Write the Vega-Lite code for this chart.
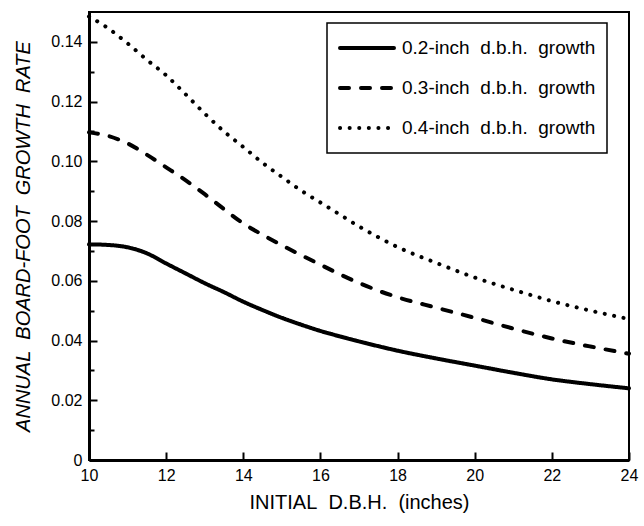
{
  "$schema": "https://vega.github.io/schema/vega-lite/v6.json",
  "width": 540,
  "height": 448,
  "autosize": {"type": "none"},
  "padding": {"left": 89, "top": 12, "right": 15, "bottom": 66},
  "background": "white",
  "config": {
    "view": {"stroke": "black", "strokeWidth": 2},
    "font": "Liberation Sans",
    "axis": {
      "labelColor": "black", "titleColor": "black",
      "labelFont": "Liberation Sans", "titleFont": "Liberation Sans",
      "labelFontSize": 16, "titleFontWeight": "normal",
      "tickColor": "black", "domainColor": "black", "grid": false
    }
  },
  "data": {"values": [
    {"dbh": 10, "rate": 0.0722, "series": "0.2-inch\u00a0 d.b.h.\u00a0 growth"},
    {"dbh": 10.5, "rate": 0.0720, "series": "0.2-inch\u00a0 d.b.h.\u00a0 growth"},
    {"dbh": 11, "rate": 0.0712, "series": "0.2-inch\u00a0 d.b.h.\u00a0 growth"},
    {"dbh": 11.5, "rate": 0.0692, "series": "0.2-inch\u00a0 d.b.h.\u00a0 growth"},
    {"dbh": 12, "rate": 0.0658, "series": "0.2-inch\u00a0 d.b.h.\u00a0 growth"},
    {"dbh": 12.5, "rate": 0.0625, "series": "0.2-inch\u00a0 d.b.h.\u00a0 growth"},
    {"dbh": 13, "rate": 0.0592, "series": "0.2-inch\u00a0 d.b.h.\u00a0 growth"},
    {"dbh": 13.5, "rate": 0.0562, "series": "0.2-inch\u00a0 d.b.h.\u00a0 growth"},
    {"dbh": 14, "rate": 0.0530, "series": "0.2-inch\u00a0 d.b.h.\u00a0 growth"},
    {"dbh": 14.5, "rate": 0.0502, "series": "0.2-inch\u00a0 d.b.h.\u00a0 growth"},
    {"dbh": 15, "rate": 0.0476, "series": "0.2-inch\u00a0 d.b.h.\u00a0 growth"},
    {"dbh": 15.5, "rate": 0.0453, "series": "0.2-inch\u00a0 d.b.h.\u00a0 growth"},
    {"dbh": 16, "rate": 0.0432, "series": "0.2-inch\u00a0 d.b.h.\u00a0 growth"},
    {"dbh": 16.5, "rate": 0.0414, "series": "0.2-inch\u00a0 d.b.h.\u00a0 growth"},
    {"dbh": 17, "rate": 0.0397, "series": "0.2-inch\u00a0 d.b.h.\u00a0 growth"},
    {"dbh": 17.5, "rate": 0.0381, "series": "0.2-inch\u00a0 d.b.h.\u00a0 growth"},
    {"dbh": 18, "rate": 0.0366, "series": "0.2-inch\u00a0 d.b.h.\u00a0 growth"},
    {"dbh": 19, "rate": 0.0340, "series": "0.2-inch\u00a0 d.b.h.\u00a0 growth"},
    {"dbh": 20, "rate": 0.0316, "series": "0.2-inch\u00a0 d.b.h.\u00a0 growth"},
    {"dbh": 21, "rate": 0.0292, "series": "0.2-inch\u00a0 d.b.h.\u00a0 growth"},
    {"dbh": 22, "rate": 0.0270, "series": "0.2-inch\u00a0 d.b.h.\u00a0 growth"},
    {"dbh": 23, "rate": 0.0254, "series": "0.2-inch\u00a0 d.b.h.\u00a0 growth"},
    {"dbh": 24, "rate": 0.0240, "series": "0.2-inch\u00a0 d.b.h.\u00a0 growth"},
    {"dbh": 10, "rate": 0.1097, "series": "0.3-inch\u00a0 d.b.h.\u00a0 growth"},
    {"dbh": 10.5, "rate": 0.1085, "series": "0.3-inch\u00a0 d.b.h.\u00a0 growth"},
    {"dbh": 11, "rate": 0.1060, "series": "0.3-inch\u00a0 d.b.h.\u00a0 growth"},
    {"dbh": 11.5, "rate": 0.1022, "series": "0.3-inch\u00a0 d.b.h.\u00a0 growth"},
    {"dbh": 12, "rate": 0.0980, "series": "0.3-inch\u00a0 d.b.h.\u00a0 growth"},
    {"dbh": 12.5, "rate": 0.0937, "series": "0.3-inch\u00a0 d.b.h.\u00a0 growth"},
    {"dbh": 13, "rate": 0.0890, "series": "0.3-inch\u00a0 d.b.h.\u00a0 growth"},
    {"dbh": 13.5, "rate": 0.0840, "series": "0.3-inch\u00a0 d.b.h.\u00a0 growth"},
    {"dbh": 14, "rate": 0.0792, "series": "0.3-inch\u00a0 d.b.h.\u00a0 growth"},
    {"dbh": 14.5, "rate": 0.0754, "series": "0.3-inch\u00a0 d.b.h.\u00a0 growth"},
    {"dbh": 15, "rate": 0.0719, "series": "0.3-inch\u00a0 d.b.h.\u00a0 growth"},
    {"dbh": 15.5, "rate": 0.0686, "series": "0.3-inch\u00a0 d.b.h.\u00a0 growth"},
    {"dbh": 16, "rate": 0.0654, "series": "0.3-inch\u00a0 d.b.h.\u00a0 growth"},
    {"dbh": 16.5, "rate": 0.0622, "series": "0.3-inch\u00a0 d.b.h.\u00a0 growth"},
    {"dbh": 17, "rate": 0.0593, "series": "0.3-inch\u00a0 d.b.h.\u00a0 growth"},
    {"dbh": 17.5, "rate": 0.0567, "series": "0.3-inch\u00a0 d.b.h.\u00a0 growth"},
    {"dbh": 18, "rate": 0.0545, "series": "0.3-inch\u00a0 d.b.h.\u00a0 growth"},
    {"dbh": 19, "rate": 0.0510, "series": "0.3-inch\u00a0 d.b.h.\u00a0 growth"},
    {"dbh": 20, "rate": 0.0476, "series": "0.3-inch\u00a0 d.b.h.\u00a0 growth"},
    {"dbh": 21, "rate": 0.0440, "series": "0.3-inch\u00a0 d.b.h.\u00a0 growth"},
    {"dbh": 22, "rate": 0.0407, "series": "0.3-inch\u00a0 d.b.h.\u00a0 growth"},
    {"dbh": 23, "rate": 0.0380, "series": "0.3-inch\u00a0 d.b.h.\u00a0 growth"},
    {"dbh": 24, "rate": 0.0356, "series": "0.3-inch\u00a0 d.b.h.\u00a0 growth"},
    {"dbh": 10, "rate": 0.1485, "series": "0.4-inch\u00a0 d.b.h.\u00a0 growth"},
    {"dbh": 10.5, "rate": 0.1445, "series": "0.4-inch\u00a0 d.b.h.\u00a0 growth"},
    {"dbh": 11, "rate": 0.1395, "series": "0.4-inch\u00a0 d.b.h.\u00a0 growth"},
    {"dbh": 11.5, "rate": 0.1340, "series": "0.4-inch\u00a0 d.b.h.\u00a0 growth"},
    {"dbh": 12, "rate": 0.1288, "series": "0.4-inch\u00a0 d.b.h.\u00a0 growth"},
    {"dbh": 12.5, "rate": 0.1225, "series": "0.4-inch\u00a0 d.b.h.\u00a0 growth"},
    {"dbh": 13, "rate": 0.1160, "series": "0.4-inch\u00a0 d.b.h.\u00a0 growth"},
    {"dbh": 13.5, "rate": 0.1100, "series": "0.4-inch\u00a0 d.b.h.\u00a0 growth"},
    {"dbh": 14, "rate": 0.1048, "series": "0.4-inch\u00a0 d.b.h.\u00a0 growth"},
    {"dbh": 14.5, "rate": 0.0995, "series": "0.4-inch\u00a0 d.b.h.\u00a0 growth"},
    {"dbh": 15, "rate": 0.0948, "series": "0.4-inch\u00a0 d.b.h.\u00a0 growth"},
    {"dbh": 15.5, "rate": 0.0902, "series": "0.4-inch\u00a0 d.b.h.\u00a0 growth"},
    {"dbh": 16, "rate": 0.0862, "series": "0.4-inch\u00a0 d.b.h.\u00a0 growth"},
    {"dbh": 16.5, "rate": 0.0822, "series": "0.4-inch\u00a0 d.b.h.\u00a0 growth"},
    {"dbh": 17, "rate": 0.0782, "series": "0.4-inch\u00a0 d.b.h.\u00a0 growth"},
    {"dbh": 17.5, "rate": 0.0746, "series": "0.4-inch\u00a0 d.b.h.\u00a0 growth"},
    {"dbh": 18, "rate": 0.0713, "series": "0.4-inch\u00a0 d.b.h.\u00a0 growth"},
    {"dbh": 19, "rate": 0.0660, "series": "0.4-inch\u00a0 d.b.h.\u00a0 growth"},
    {"dbh": 20, "rate": 0.0611, "series": "0.4-inch\u00a0 d.b.h.\u00a0 growth"},
    {"dbh": 21, "rate": 0.0570, "series": "0.4-inch\u00a0 d.b.h.\u00a0 growth"},
    {"dbh": 22, "rate": 0.0532, "series": "0.4-inch\u00a0 d.b.h.\u00a0 growth"},
    {"dbh": 23, "rate": 0.0500, "series": "0.4-inch\u00a0 d.b.h.\u00a0 growth"},
    {"dbh": 24, "rate": 0.0472, "series": "0.4-inch\u00a0 d.b.h.\u00a0 growth"}
  ]},
  "layer": [
    {
      "mark": {"type": "line", "interpolate": "monotone", "strokeCap": "round", "strokeWidth": 4, "color": "black"},
      "encoding": {
        "x": {
          "field": "dbh", "type": "quantitative",
          "scale": {"domain": [10, 24], "nice": false, "zero": false},
          "axis": {
            "values": [10, 12, 14, 16, 18, 20, 22, 24],
            "tickSize": -8, "tickWidth": 2, "domainWidth": 3,
            "labelPadding": 15, "labelFlush": false,
            "title": "INITIAL\u00a0 D.B.H.\u00a0 (inches)",
            "titleFontSize": 20, "titleX": 270, "titleY": 42,
            "titleAlign": "center", "titleBaseline": "middle"
          }
        },
        "y": {
          "field": "rate", "type": "quantitative",
          "scale": {"domain": [0, 0.15], "nice": false},
          "axis": {
            "values": [0, 0.02, 0.04, 0.06, 0.08, 0.1, 0.12, 0.14],
            "labelExpr": "datum.value == 0 ? '0' : format(datum.value, '.2f')",
            "tickSize": -8, "tickWidth": 2, "domainWidth": 3,
            "labelPadding": 15, "labelFlush": false,
            "title": "ANNUAL\u00a0 BOARD-FOOT\u00a0 GROWTH\u00a0 RATE",
            "titleFontSize": 20, "titleFontStyle": "italic",
            "titleX": -66, "titleY": 224, "titleAngle": -90,
            "titleAlign": "center", "titleBaseline": "middle"
          }
        },
        "strokeDash": {
          "field": "series", "type": "nominal",
          "scale": {
            "domain": ["0.2-inch\u00a0 d.b.h.\u00a0 growth", "0.3-inch\u00a0 d.b.h.\u00a0 growth", "0.4-inch\u00a0 d.b.h.\u00a0 growth"],
            "range": [[1, 0], [9, 12], [0.1, 9.5]]
          },
          "legend": {
            "title": null, "orient": "none", "legendX": 238, "legendY": 11,
            "padding": 11, "strokeColor": "black",
            "symbolType": "stroke", "symbolSize": 2916, "symbolStrokeWidth": 4,
            "symbolStrokeColor": "black",
            "labelFontSize": 19, "labelFont": "Liberation Sans", "labelColor": "black",
            "labelOffset": 6, "labelLimit": 400, "clipHeight": 28, "rowPadding": 12,
            "encode": {
              "symbols": {"update": {"strokeCap": {"value": "round"}}},
              "legend": {"update": {"strokeWidth": {"value": 1.5}}}
            }
          }
        }
      }
    },
    {
      "mark": {"type": "line", "opacity": 0},
      "encoding": {
        "x": {"field": "dbh", "type": "quantitative"},
        "y": {
          "field": "rate", "type": "quantitative",
          "axis": {
            "orient": "left",
            "values": [0.01, 0.03, 0.05, 0.07, 0.09, 0.11, 0.13],
            "labels": false, "domain": false, "title": null,
            "tickSize": -5, "tickWidth": 2
          }
        },
        "detail": {"field": "series"}
      }
    }
  ],
  "resolve": {"axis": {"y": "independent"}}
}
